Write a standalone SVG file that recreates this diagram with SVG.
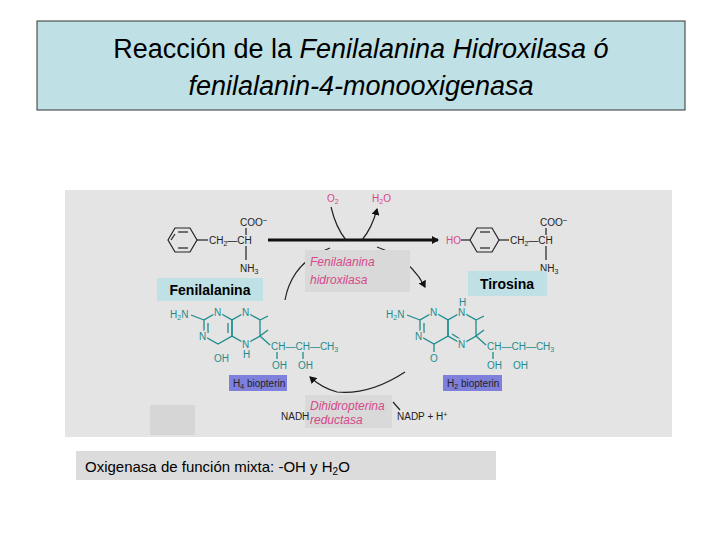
<svg xmlns="http://www.w3.org/2000/svg" width="720" height="540" viewBox="0 0 720 540">
<style>
.t{font-family:"Liberation Sans",Arial,sans-serif}
.s{font-family:"Liberation Sans",Arial,sans-serif;font-size:10px;fill:#222}
.p{font-family:"Liberation Sans",Arial,sans-serif;font-size:10px;fill:#1e8c8c}
.k{stroke:#222;stroke-width:1.2;fill:none}
.g{stroke:#1e8c8c;stroke-width:1.3;fill:none}
.e{font-family:"Liberation Sans",Arial,sans-serif;font-style:italic;font-size:12px;fill:#d6488a}
.m{paint-order:stroke;stroke:#e4e4e4;stroke-width:3}
</style>
<defs>
<marker id="a" markerWidth="8" markerHeight="8" refX="6" refY="4" orient="auto" markerUnits="userSpaceOnUse"><path d="M0,0L7,4L0,8z" fill="#111"/></marker>
</defs>
<rect width="720" height="540" fill="#fff"/>
<g id="title">
<rect x="37" y="21" width="648" height="89" fill="#bfe1e6" stroke="#333"/>
<text class="t" x="361" y="58" text-anchor="middle" font-size="27">Reacción de la <tspan font-style="italic">Fenilalanina Hidroxilasa ó</tspan></text>
<text class="t" x="361" y="95" text-anchor="middle" font-size="27" font-style="italic">fenilalanin-4-monooxigenasa</text>
</g>
<g id="panel">
<rect x="65" y="190" width="607" height="247" fill="#e4e4e4"/>
<rect x="150" y="405" width="45" height="30" fill="#d6d6d6"/>
</g>
<g id="fenilalanina">
<polygon class="k" points="168,240 175,228 190,228 197,240 190,252 175,252"/>
<line class="k" x1="178" y1="232" x2="188" y2="232"/><line class="k" x1="178" y1="248" x2="188" y2="248"/><line class="k" x1="171" y1="240" x2="175" y2="234"/>
<line class="k" x1="197" y1="240" x2="208" y2="240"/>
<text class="s" x="209" y="244">CH<tspan font-size="7" dy="2">2</tspan><tspan dy="-2">—CH</tspan></text>
<text class="s" x="240" y="226">COO<tspan dy="-3" font-size="8">−</tspan></text>
<line class="k" x1="246" y1="228" x2="246" y2="235"/><line class="k" x1="246" y1="246" x2="246" y2="260"/>
<text class="s" x="240" y="272">NH<tspan font-size="7" dy="2">3</tspan></text>
<rect x="157" y="278" width="106" height="23" fill="#bfe1e6"/>
<text class="t" x="210" y="295" text-anchor="middle" font-size="14" font-weight="bold">Fenilalanina</text>
</g>
<g id="tirosina">
<text class="s" x="446" y="244" style="fill:#d6488a">HO</text>
<line class="k" x1="461" y1="240" x2="470" y2="240"/>
<polygon class="k" points="470,240 477,228 492,228 499,240 492,252 477,252"/>
<line class="k" x1="480" y1="232" x2="490" y2="232"/><line class="k" x1="480" y1="248" x2="490" y2="248"/>
<line class="k" x1="499" y1="240" x2="509" y2="240"/>
<text class="s" x="510" y="244">CH<tspan font-size="7" dy="2">2</tspan><tspan dy="-2">—CH</tspan></text>
<text class="s" x="540" y="226">COO<tspan dy="-3" font-size="8">−</tspan></text>
<line class="k" x1="546" y1="228" x2="546" y2="235"/><line class="k" x1="546" y1="246" x2="546" y2="260"/>
<text class="s" x="540" y="272">NH<tspan font-size="7" dy="2">3</tspan></text>
<rect x="468" y="271" width="79" height="25" fill="#bfe1e6"/>
<text class="t" x="507" y="289" text-anchor="middle" font-size="14" font-weight="bold">Tirosina</text>
</g>
<g id="h4biopterin">
<text class="p" x="170" y="318">H<tspan font-size="7" dy="2">2</tspan><tspan dy="-2">N</tspan></text>
<polygon class="g" points="218,312 232,320 232,336 218,344 204,336 204,320"/>
<polygon class="g" points="246,312 260,320 260,336 246,344 232,336 232,320"/>
<line class="g" x1="208" y1="323" x2="208" y2="333"/><line class="g" x1="228" y1="323" x2="228" y2="333"/>
<line class="g" x1="191" y1="315" x2="204" y2="320"/>
<line class="g" x1="260" y1="320" x2="268" y2="316"/><line class="g" x1="260" y1="336" x2="268" y2="330"/>
<line class="g" x1="260" y1="336" x2="270" y2="345"/>
<text class="p m" x="214" y="316">N</text>
<text class="p m" x="242" y="316">N</text>
<text class="p m" x="199" y="340">N</text>
<text class="p m" x="242" y="348">N</text>
<text class="p" x="243" y="358">H</text>
<text class="p" x="214" y="362">OH</text>
<text class="p" x="271" y="350">CH—CH—CH<tspan font-size="7" dy="2">3</tspan></text>
<line class="g" x1="277" y1="352" x2="277" y2="359"/><line class="g" x1="303" y1="352" x2="303" y2="359"/>
<text class="p" x="272" y="369">OH</text><text class="p" x="298" y="369">OH</text>
<rect x="229" y="375" width="58" height="16" fill="#7f7fdc"/>
<text class="s" x="233" y="387">H<tspan font-size="7" dy="2">4</tspan><tspan dy="-2"> biopterin</tspan></text>
</g>
<g id="h2biopterin">
<text class="p" x="386" y="318">H<tspan font-size="7" dy="2">2</tspan><tspan dy="-2">N</tspan></text>
<polygon class="g" points="434,312 448,320 448,336 434,344 420,336 420,320"/>
<polygon class="g" points="462,312 476,320 476,336 462,344 448,336 448,320"/>
<line class="g" x1="424" y1="323" x2="424" y2="333"/><line class="g" x1="452" y1="334" x2="460" y2="339"/>
<line class="g" x1="407" y1="315" x2="420" y2="320"/>
<line class="g" x1="434" y1="344" x2="434" y2="352"/>
<line class="g" x1="476" y1="320" x2="484" y2="316"/><line class="g" x1="476" y1="336" x2="484" y2="330"/>
<line class="g" x1="476" y1="336" x2="486" y2="345"/>
<text class="p m" x="430" y="316">N</text>
<text class="p m" x="458" y="316">N</text>
<text class="p" x="459" y="306">H</text>
<text class="p m" x="415" y="340">N</text>
<text class="p m" x="458" y="348">N</text>
<text class="p" x="430" y="362">O</text>
<text class="p" x="487" y="350">CH—CH—CH<tspan font-size="7" dy="2">3</tspan></text>
<line class="g" x1="493" y1="352" x2="493" y2="359"/>
<text class="p" x="487" y="369">OH</text><text class="p" x="513" y="369">OH</text>
<rect x="443" y="375" width="59" height="16" fill="#7f7fdc"/>
<text class="s" x="447" y="387">H<tspan font-size="7" dy="2">2</tspan><tspan dy="-2"> biopterin</tspan></text>
</g>
<g id="connectors">
<line x1="268" y1="240" x2="438" y2="240" stroke="#111" stroke-width="3" marker-end="url(#a)"/>
<path d="M331,207 Q336,228 346,240" class="k"/>
<path d="M362,240 Q372,228 377,209" class="k" marker-end="url(#a)"/>
<path d="M285,300 Q292,262 330,248" class="k"/>
<path d="M377,247 Q410,258 425,287" class="k" marker-end="url(#a)"/>
<path d="M405,372 Q370,395 337,392 Q322,388 310,377" class="k" marker-end="url(#a)"/>
<path d="M393,402 L400,410" class="k"/>
</g>
<g id="enzymes">
<rect x="305" y="250" width="105" height="42" fill="#d9d9d9"/>
<text class="e" x="310" y="266">Fenilalanina</text>
<text class="e" x="310" y="284">hidroxilasa</text>
<text class="s" x="327" y="202" style="fill:#d6488a">O<tspan font-size="7" dy="2">2</tspan></text>
<text class="s" x="372" y="202" style="fill:#d6488a">H<tspan font-size="7" dy="2">2</tspan><tspan dy="-2">O</tspan></text>
<rect x="305" y="395" width="87" height="33" fill="#d9d9d9"/>
<text class="e" x="310" y="410" font-size="11">Dihidropterina</text>
<text class="e" x="310" y="424" font-size="11">reductasa</text>
<text class="s" x="281" y="420">NADH</text>
<text class="s" x="397" y="420">NADP + H<tspan dy="-3" font-size="7">+</tspan></text>
</g>
<g id="footer">
<rect x="76" y="451" width="420" height="29" fill="#dcdcdc"/>
<text class="t" x="85" y="472" font-size="15">Oxigenasa de función mixta: -OH y H<tspan font-size="10" dy="3">2</tspan><tspan dy="-3">O</tspan></text>
</g>
</svg>
